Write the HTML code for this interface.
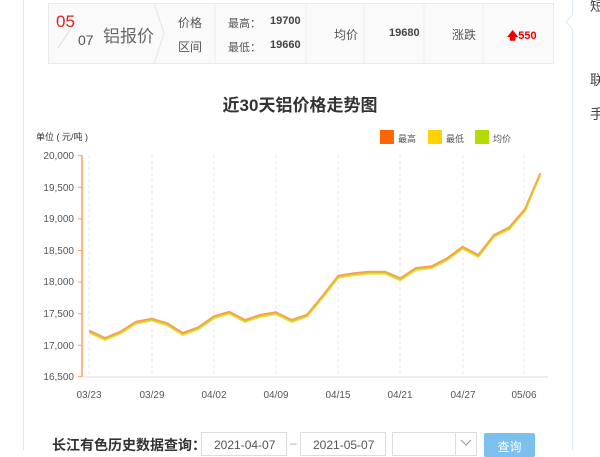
<!DOCTYPE html>
<html><head><meta charset="utf-8"><style>
*{margin:0;padding:0;box-sizing:border-box}
body{width:600px;height:450px;overflow:hidden;background:#fff;font-family:"Liberation Sans","Noto Sans CJK SC",sans-serif;position:relative;color:#555}
.a{position:absolute;white-space:nowrap}
</style></head><body>
<div class="a" style="left:23px;top:0;width:1px;height:450px;background:#dbeaf8"></div>
<div class="a" style="left:572px;top:0;width:1px;height:450px;background:#dbeaf8"></div>
<svg class="a" style="left:565px;top:14px" width="10" height="20"><polyline points="8,0 1,8 8,16" fill="#fff" stroke="#dbeaf8"/></svg>
<div class="a" style="left:590px;top:-4px;font-size:14px;color:#444">短</div>
<div class="a" style="left:590px;top:70px;font-size:14px;color:#444">联</div>
<div class="a" style="left:590px;top:104px;font-size:14px;color:#444">手</div>

<div class="a" style="left:48px;top:3px;width:506px;height:61px;border:1px solid #eaeaea;background:#fafafa"></div>
<svg class="a" style="left:48px;top:3px" width="506" height="61">
<line x1="10" y1="45" x2="28" y2="18" stroke="#ddd"/>
<polyline points="106,0 116,30 106,61" fill="none" stroke="#e6e6e6"/>
<line x1="167" y1="0" x2="167" y2="61" stroke="#eee"/>
<line x1="258" y1="0" x2="258" y2="61" stroke="#eee"/>
<line x1="316" y1="0" x2="316" y2="61" stroke="#eee"/>
<line x1="376" y1="0" x2="376" y2="61" stroke="#eee"/>
<line x1="435" y1="0" x2="435" y2="61" stroke="#eee"/>
</svg>
<div class="a" style="left:56px;top:12px;font-size:17px;color:#e02020">05</div>
<div class="a" style="left:78px;top:32px;font-size:14px;color:#555">07</div>
<div class="a" style="left:103px;top:22px;font-size:17px;color:#666">铝报价</div>
<div class="a" style="left:178px;top:14px;font-size:12px">价格</div>
<div class="a" style="left:178px;top:38px;font-size:12px">区间</div>
<div class="a" style="left:228px;top:15px;font-size:11px">最高：</div>
<div class="a" style="left:228px;top:39px;font-size:11px">最低：</div>
<div class="a" style="left:270px;top:15px;font-size:11px;font-weight:bold;color:#444">19700</div>
<div class="a" style="left:270px;top:39px;font-size:11px;font-weight:bold;color:#444">19660</div>
<div class="a" style="left:334px;top:26px;font-size:12px">均价</div>
<div class="a" style="left:389px;top:27px;font-size:11px;font-weight:bold;color:#444">19680</div>
<div class="a" style="left:452px;top:26px;font-size:12px">涨跌</div>
<div class="a" style="left:507px;top:27px;font-size:11px;font-weight:bold;color:#e00">&#129093;550</div>

<div class="a" style="left:0;width:600px;top:91px;text-align:center;font-size:17px;font-weight:bold;color:#333">近30天铝价格走势图</div>
<div class="a" style="left:36px;top:130px;font-size:9px;color:#333">单位 ( 元/吨 )</div>
<div class="a" style="left:380px;top:130px;width:14px;height:14px;background:#ff6600"></div>
<div class="a" style="left:398px;top:132px;font-size:9px">最高</div>
<div class="a" style="left:428px;top:130px;width:14px;height:14px;background:#ffd200"></div>
<div class="a" style="left:446px;top:132px;font-size:9px">最低</div>
<div class="a" style="left:475px;top:130px;width:14px;height:14px;background:#b4dc00"></div>
<div class="a" style="left:493px;top:132px;font-size:9px">均价</div>

<svg class="a" style="left:0;top:0" width="600" height="450" font-family="Liberation Sans" font-size="10" fill="#555">
<g stroke="#e4e4e4" stroke-dasharray="3,3">
<line x1="89" y1="155" x2="89" y2="377"/><line x1="152" y1="155" x2="152" y2="377"/><line x1="214" y1="155" x2="214" y2="377"/><line x1="276" y1="155" x2="276" y2="377"/><line x1="338" y1="155" x2="338" y2="377"/><line x1="400" y1="155" x2="400" y2="377"/><line x1="463" y1="155" x2="463" y2="377"/><line x1="524" y1="155" x2="524" y2="377"/>
</g>
<line x1="82" y1="155" x2="82" y2="377" stroke="#ffa060" stroke-width="1.5"/>
<line x1="82" y1="377" x2="548" y2="377" stroke="#ddd"/>
<g stroke="#ffa060"><line x1="78" y1="155.7" x2="82" y2="155.7"/><line x1="78" y1="187.3" x2="82" y2="187.3"/><line x1="78" y1="218.9" x2="82" y2="218.9"/><line x1="78" y1="250.5" x2="82" y2="250.5"/><line x1="78" y1="282.1" x2="82" y2="282.1"/><line x1="78" y1="313.7" x2="82" y2="313.7"/><line x1="78" y1="345.3" x2="82" y2="345.3"/><line x1="78" y1="376.7" x2="82" y2="376.7"/></g>
<g text-anchor="end">
<text x="74" y="159">20,000</text><text x="74" y="191">19,500</text><text x="74" y="222">19,000</text><text x="74" y="254">18,500</text><text x="74" y="285">18,000</text><text x="74" y="317">17,500</text><text x="74" y="349">17,000</text><text x="74" y="380">16,500</text>
</g>
<g text-anchor="middle">
<text x="89" y="398">03/23</text><text x="152" y="398">03/29</text><text x="214" y="398">04/02</text><text x="276" y="398">04/09</text><text x="338" y="398">04/15</text><text x="400" y="398">04/21</text><text x="463" y="398">04/27</text><text x="524" y="398">05/06</text>
</g>
<g fill="none" stroke-linejoin="round">
<polyline id="p" stroke="#ff9a5a" stroke-width="2" transform="translate(0,-1)" points="89.3,331.7 105,339 120.3,332.7 136,322.7 151.7,319.7 167.3,324.3 182.7,334 198.3,328.3 214,317.3 229.3,312.7 245,321 260.7,315.7 276,313.3 291.7,321 307,315.7 322.7,296.7 338.3,276.7 353.7,274.3 369.3,272.7 385,272.7 400.3,279.3 416,269 431.7,267.3 447,259.3 462.7,247.7 478.3,256 494,236 509.3,228.3 525,210 540.3,174.3"/>
<polyline stroke="#ffd84a" stroke-width="2" transform="translate(0,1)" points="89.3,331.7 105,339 120.3,332.7 136,322.7 151.7,319.7 167.3,324.3 182.7,334 198.3,328.3 214,317.3 229.3,312.7 245,321 260.7,315.7 276,313.3 291.7,321 307,315.7 322.7,296.7 338.3,276.7 353.7,274.3 369.3,272.7 385,272.7 400.3,279.3 416,269 431.7,267.3 447,259.3 462.7,247.7 478.3,256 494,236 509.3,228.3 525,210 540.3,174.3"/>
<polyline stroke="#c8c830" stroke-width="1.2" points="89.3,331.7 105,339 120.3,332.7 136,322.7 151.7,319.7 167.3,324.3 182.7,334 198.3,328.3 214,317.3 229.3,312.7 245,321 260.7,315.7 276,313.3 291.7,321 307,315.7 322.7,296.7 338.3,276.7 353.7,274.3 369.3,272.7 385,272.7 400.3,279.3 416,269 431.7,267.3 447,259.3 462.7,247.7 478.3,256 494,236 509.3,228.3 525,210 540.3,174.3"/>
</g>
</svg>

<div class="a" style="left:52px;top:435px;font-size:14px;font-weight:bold;color:#333">长江有色历史数据查询：</div>
<div class="a" style="left:201px;top:432px;width:86px;height:24px;border:1px solid #ddd;font-size:12px;padding:5px 0 0 12px;color:#555">2021-04-07</div>
<div class="a" style="left:290px;top:436px;font-size:12px;color:#aaa">–</div>
<div class="a" style="left:300px;top:432px;width:86px;height:24px;border:1px solid #ddd;font-size:12px;padding:5px 0 0 12px;color:#555">2021-05-07</div>
<div class="a" style="left:392px;top:432px;width:85px;height:24px;border:1px solid #ddd"></div>
<div class="a" style="left:455px;top:432px;width:1px;height:24px;background:#ddd"></div>
<svg class="a" style="left:459px;top:438px" width="14" height="10"><polyline points="2,2 7,7 12,2" fill="none" stroke="#999"/></svg>
<div class="a" style="left:484px;top:433px;width:51px;height:24px;background:#7cc0ee;border-radius:2px;color:#fff;font-size:12px;text-align:center;padding-top:5px">查询</div>
</body></html>
